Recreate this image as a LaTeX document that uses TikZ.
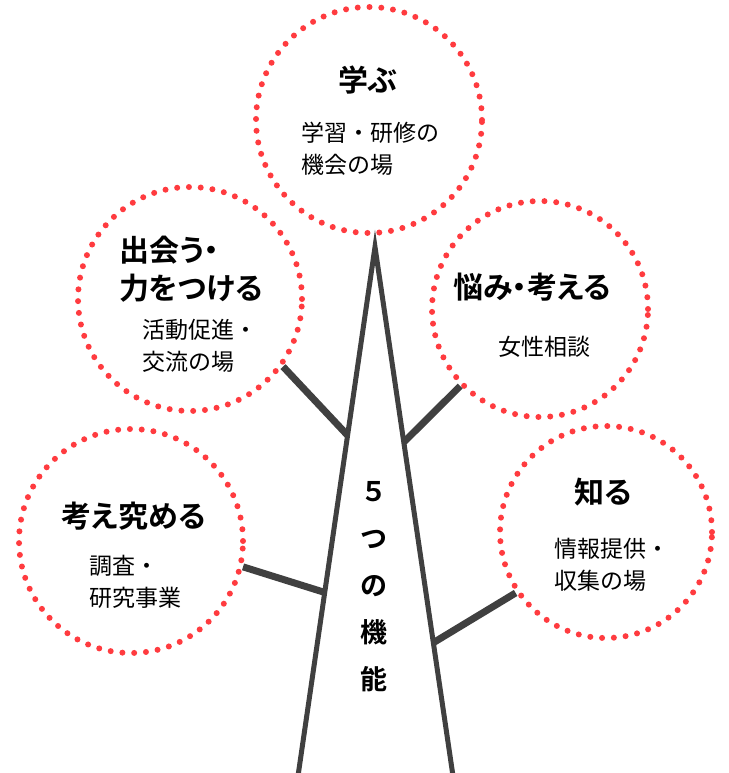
\documentclass[tikz,border=0pt]{standalone}
\usepackage{fontspec}
\setmainfont{Noto Sans CJK JP}[BoldFont={* Bold}]
\newfontfamily\headfont{Noto Sans CJK JP}[BoldFont={* Bold}, RawFeature=+palt]
\usetikzlibrary{calc}
\definecolor{ringred}{RGB}{255,59,63}
\definecolor{barkgray}{RGB}{64,64,64}
\tikzset{
	ring/.style={circle, draw=ringred, line width=6pt, line cap=round, dash pattern=on 0pt off 11.8pt, minimum size=#1, inner sep=0pt},
	head/.style={font=\headfont\bfseries\fontsize{30}{38}\selectfont, inner sep=0pt, align=left},
	sub/.style={font=\fontsize{23}{32}\selectfont, inner sep=0pt, align=left},
	bark/.style={draw=barkgray, line width=5pt},
	twig/.style={draw=barkgray, line width=7pt},
}
\begin{document}
\begin{tikzpicture}[x=1pt, y=-1pt]
	\useasboundingbox (0,0) rectangle (728,773);
	% trunk
	\coordinate (apex) at (375,247);
	\coordinate (rootL) at (298,776);
	\coordinate (rootR) at (453,776);
	\draw [bark] (rootL) -- (apex) -- (rootR);
	% circles
	\node [ring=226pt] (manabu) at (369,120) {};
	\node [ring=224pt] (deai) at (190,299) {};
	\node [ring=216pt] (nayami) at (540,309) {};
	\node [ring=224pt] (kiwameru) at (131,541) {};
	\node [ring=212pt] (shiru) at (606,532) {};
	% branches
	\draw [twig] (deai.-36) -- ($(apex)!0.356!(rootL)$);
	\draw [twig] (nayami.-136) -- ($(apex)!0.369!(rootR)$);
	\draw [twig] (kiwameru.-13) -- ($(apex)!0.653!(rootL)$);
	\draw [twig] (shiru.-146) -- ($(apex)!0.748!(rootR)$);
	% labels
	\node [head] (manabuT) at (368,80) {学ぶ};
	\node [sub, anchor=west] (manabuS) at (301,149) {学習・研修の\\機会の場};
	\node [head, anchor=west] (deaiT) at (119,269) {出会う・\\力をつける};
	\node [sub, anchor=west] (deaiS) at (142,346) {活動促進・\\交流の場};
	\node [head] (nayamiT) at (532,287) {悩み・考える};
	\node [sub] (nayamiS) at (544,347) {女性相談};
	\node [head] (kiwameruT) at (134,516) {考え究める};
	\node [sub, anchor=west] (kiwameruS) at (89,582) {調査・\\研究事業};
	\node [head] (shiruT) at (603,492) {知る};
	\node [sub, anchor=west] (shiruS) at (554,565) {情報提供・\\収集の場};
	\node [head, align=center, font=\headfont\bfseries\fontsize{27}{47}\selectfont] (kino) at (374,587) {５\\つ\\の\\機\\能};
\end{tikzpicture}
\end{document}
